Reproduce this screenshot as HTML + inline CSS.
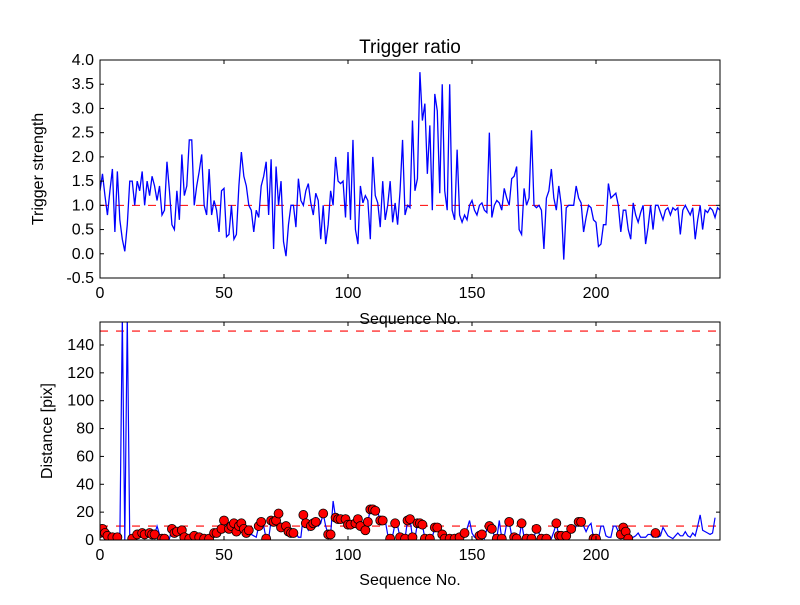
<!DOCTYPE html>
<html><head><meta charset="utf-8"><style>
body{margin:0;background:#fff;font-family:"Liberation Sans",sans-serif}
svg text{font-family:"Liberation Sans",sans-serif}
</style></head><body>
<svg id="c" width="800" height="600" xmlns="http://www.w3.org/2000/svg"></svg>
<script>
const ratio=[1.3,1.65,1.2,0.8,1.3,1.75,0.45,1.7,0.7,0.3,0.05,0.6,1.5,1.5,1.0,1.5,1.3,1.7,1.0,1.5,1.2,1.6,1.4,1.1,1.4,0.8,0.9,1.9,1.3,0.6,0.5,1.3,0.7,2.05,1.2,1.4,2.35,2.35,1.0,1.4,1.7,2.05,1.0,0.8,1.75,0.8,1.1,0.9,0.45,1.3,1.35,0.35,0.4,1.0,0.3,0.4,1.4,2.1,1.6,1.4,1.0,0.9,0.45,0.9,0.75,1.4,1.6,1.9,0.8,1.95,0.1,1.8,1.0,1.5,0.25,-0.05,0.6,1.0,1.0,0.55,1.55,1.1,1.0,1.3,1.45,1.05,0.8,1.25,1.1,0.3,1.0,0.2,0.6,1.3,1.0,2.0,1.5,1.45,1.5,0.75,2.1,0.7,2.35,0.5,0.2,1.4,1.05,1.2,1.1,0.3,2.0,1.2,1.05,0.55,1.5,0.7,1.0,1.5,0.65,1.05,0.6,1.3,2.35,0.8,1.0,0.95,2.75,1.3,1.55,3.75,2.75,3.1,1.65,2.65,0.9,3.3,2.95,1.25,3.5,1.3,0.9,3.5,0.9,0.7,2.15,0.8,0.65,0.8,0.7,1.0,1.1,0.9,0.8,1.0,1.05,0.9,0.85,2.5,0.75,1.0,1.1,1.05,0.9,1.35,1.15,1.0,1.55,1.6,1.8,0.5,0.4,1.35,1.0,1.15,2.55,1.0,0.95,1.0,0.9,0.1,1.15,1.3,1.75,1.15,0.9,1.4,1.0,-0.12,0.95,1.0,1.0,1.0,1.4,1.15,1.05,0.45,0.75,1.0,0.95,0.7,0.65,0.15,0.2,0.6,0.6,1.45,1.15,1.2,1.25,1.0,0.45,0.9,0.9,0.5,0.3,1.05,0.8,0.65,0.85,1.0,0.2,0.55,1.0,0.5,1.0,1.0,0.85,0.7,0.9,0.95,0.8,0.95,0.9,0.95,0.4,0.9,1.0,0.9,0.8,0.95,0.3,0.7,1.0,0.5,0.9,0.85,0.95,0.9,0.75,0.95,0.9,0.8];
const dist=[5,8,5,3,3,2,1,2,0,160,0,160,0,1,2,4,3,5,4,3,5,4,4,10,4,1,1,2,1,8,5,6,6,7,2,2,1,1,3,1,2,1,1,1,1,3,5,5,6,8,14,10,8,10,12,6,10,12,8,5,7,4,3,2,10,13,10,1,1,14,13,14,19,9,7,10,6,5,5,5,2,2,18,12,7,10,12,13,10,12,19,10,4,4,28,16,15,15,13,15,11,11,10,12,15,10,11,7,13,22,22,21,20,14,14,14,4,1,3,12,10,2,1,1,14,15,2,1,12,12,11,1,2,1,2,9,9,3,4,1,2,1,1,1,1,2,2,5,8,14,5,2,3,3,4,1,8,10,8,3,1,14,1,2,12,13,3,2,1,1,12,2,1,3,1,2,8,5,1,2,1,2,1,6,12,3,3,1,3,6,8,6,10,13,13,10,6,10,12,1,1,1,10,10,3,2,2,10,10,6,4,9,6,1,2,2,3,5,2,2,2,4,4,2,5,2,3,9,6,3,2,1,3,5,3,3,6,3,2,5,3,10,18,7,6,5,4,5,16];
const dotIdx=[0,1,2,3,5,7,13,15,17,18,20,21,22,25,26,29,30,31,33,34,36,38,40,42,44,46,47,49,50,52,53,54,55,56,57,58,59,60,64,65,67,69,70,71,72,73,75,76,77,78,82,83,85,86,87,90,92,93,95,96,97,99,100,101,103,104,105,107,108,109,110,111,113,114,117,119,121,123,124,125,126,128,129,130,131,133,135,136,138,139,141,143,145,147,153,154,157,158,160,162,165,167,168,170,172,174,176,178,180,184,185,186,188,190,193,194,199,200,210,211,212,213,224];
const xTicks=[0,50,100,150,200];
const yTicksTop=[-0.5,0,0.5,1,1.5,2,2.5,3,3.5,4];
const yTicksBot=[0,20,40,60,80,100,120,140];
const ratioRef=1.0, distRefLow=10, distRefHigh=150;

const NS="http://www.w3.org/2000/svg", svg=document.getElementById('c');
function mk(t,a,p){const e=document.createElementNS(NS,t);for(const k in a)e.setAttribute(k,a[k]);(p||svg).appendChild(e);return e;}
const L=100,R=720,XMAX=250;
const xs=v=>L+v*(R-L)/XMAX;
const T={top:60,bot:278,min:-0.5,max:4.0};
const B={top:322,bot:540,min:0,max:156.5};
const ys=(P,v)=>P.bot-(v-P.min)*(P.bot-P.top)/(P.max-P.min);

function axes(P,yt,fmt,name){
  const g=mk('g',{});
  
  
  xTicks.forEach(t=>{const x=xs(t);
    mk('line',{x1:x,x2:x,y1:P.bot,y2:P.bot-4,stroke:'#000'},g);
    mk('line',{x1:x,x2:x,y1:P.top,y2:P.top+4,stroke:'#000'},g);
    const tx=mk('text',{x:x,y:P.bot+20,'font-size':16,'text-anchor':'middle'},g);tx.textContent=t;
    
    });
  yt.forEach(t=>{const y=ys(P,t);
    mk('line',{x1:L,x2:L+4,y1:y,y2:y,stroke:'#000'},g);
    mk('line',{x1:R,x2:R-4,y1:y,y2:y,stroke:'#000'},g);
    const tx=mk('text',{x:L-6,y:y+5,'font-size':16,'text-anchor':'end'},g);tx.textContent=fmt(t);
    
    });
  return g;
}
function clip(id,P){const d=mk('clipPath',{id:id});mk('rect',{x:L,y:P.top,width:R-L,height:P.bot-P.top},d);}
clip('ct',T);clip('cb',B);

// top
const rl=mk('line',{x1:L,x2:R,y1:ys(T,ratioRef),y2:ys(T,ratioRef),stroke:'#f00','stroke-dasharray':'8,8'});


const p1=mk('polyline',{points:ratio.map((v,i)=>xs(i)+','+ys(T,v)).join(' '),fill:'none',stroke:'#00f','stroke-width':1.3,'clip-path':'url(#ct)'});


const f1=mk('rect',{x:L,y:T.top,width:R-L,height:T.bot-T.top,fill:'none',stroke:'#000'});


axes(T,yTicksTop,t=>t.toFixed(1),'top-axes');

// bottom
[distRefLow,distRefHigh].forEach(v=>{const l=mk('line',{x1:L,x2:R,y1:ys(B,v),y2:ys(B,v),stroke:'#f00','stroke-dasharray':'8,8','stroke-width':1.2});
  
  });
const p2=mk('polyline',{points:dist.map((v,i)=>xs(i)+','+ys(B,v)).join(' '),fill:'none',stroke:'#00f','stroke-width':1.2,'clip-path':'url(#cb)'});


const dg=mk('g',{'clip-path':'url(#cb)'});
dotIdx.forEach(i=>{const c=mk('circle',{cx:xs(i),cy:ys(B,dist[i]),r:4.5,fill:'#f00',stroke:'#000','stroke-width':0.8},dg);
  
  });
const f2=mk('rect',{x:L,y:B.top,width:R-L,height:B.bot-B.top,fill:'none',stroke:'#000'});


axes(B,yTicksBot,t=>t,'bottom-axes');

function txt(s,a,name){const e=mk('text',a);e.textContent=s;}
txt('Trigger ratio',{x:410,y:53,'font-size':19,'text-anchor':'middle'},'chart-title');
txt('Sequence No.',{x:410,y:324,'font-size':16,'text-anchor':'middle'},'top-x-axis-title');
txt('Sequence No.',{x:410,y:585,'font-size':16,'text-anchor':'middle'},'bottom-x-axis-title');
txt('Trigger strength',{x:43,y:169,'font-size':16,'text-anchor':'middle',transform:'rotate(-90 43 169)'},'top-y-axis-title');
txt('Distance [pix]',{x:52,y:431,'font-size':16,'text-anchor':'middle',transform:'rotate(-90 52 431)'},'bottom-y-axis-title');
</script>
</body></html>
